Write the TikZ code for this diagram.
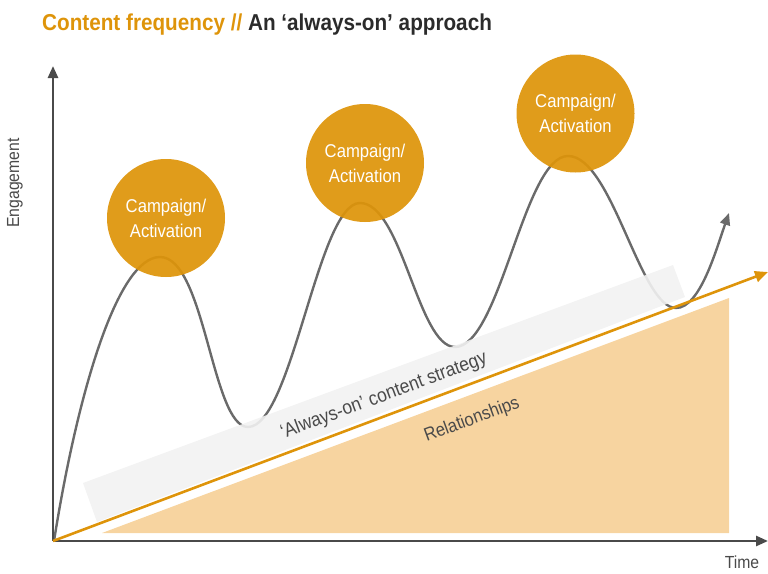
\documentclass[tikz,border=0pt]{standalone}
\usepackage{fontspec}
\setmainfont{Liberation Sans}[FakeStretch=0.9]
\usetikzlibrary{arrows.meta}
\definecolor{gold}{HTML}{DE940A}
\definecolor{axisgray}{HTML}{4A4A4A}
\definecolor{curvegray}{HTML}{6A6A6A}
\definecolor{bandgray}{HTML}{F2F2F2}
\definecolor{peach}{HTML}{F7D4A0}
\definecolor{titledark}{HTML}{2B2B2B}
\tikzset{
  axisline/.style={draw=axisgray, line width=2.6pt, -{Triangle[length=12pt,width=10pt]}},
  curveline/.style={draw=curvegray, line width=2.4pt},
  bubble/.style={circle, fill=gold, fill opacity=0.93, text opacity=1, minimum size=118pt, inner sep=0pt, text=white, align=center, font=\fontsize{18.5}{25}\selectfont},
  bandtext/.style={rotate=20.3, text=axisgray, inner sep=0pt},
}
\begin{document}
\begin{tikzpicture}[x=1pt,y=-1pt]
\useasboundingbox (0,0) rectangle (768,573);
% relationships triangle
\fill[peach] (102,533) -- (729,533) -- (729,298) -- cycle;
% engagement curve
\draw[curveline] (54,541) .. controls (78,390) and (118,257) .. (160,257)
  .. controls (205,257) and (212,427) .. (248,427)
  .. controls (292,427) and (318,203) .. (360,203)
  .. controls (402,203) and (418,347) .. (455,347)
  .. controls (500,347) and (524,156) .. (568,156)
  .. controls (612,156) and (640,308) .. (676,308);
\draw[curveline, -{Triangle[length=12pt,width=10pt]}] (676,308) .. controls (700,308) and (716,250) .. (729,213);
% always-on band
\fill[bandgray, opacity=0.9] (83,483) -- (673,265) -- (685,297) -- (97,522) -- cycle;
% axes
\coordinate (o) at (53,541);
\coordinate (ytop) at (53,66);
\coordinate (xend) at (768,541);
\draw[axisline] (o) -- (ytop);
\draw[axisline] (o) -- (xend);
% always-on line
\coordinate (aend) at (768,272);
\draw[draw=gold, line width=2.6pt, -{Triangle[length=13pt,width=11pt]}] (o) -- (aend);
% bubbles
\node[bubble] (c1) at (166,218) {Campaign/\\Activation};
\node[bubble] (c2) at (365,163) {Campaign/\\Activation};
\node[bubble] (c3) at (575.5,113.5) {Campaign/\\Activation};
% band texts
\node[bandtext, font=\fontsize{19.5}{22}\selectfont] (t1) at (384,396) {‘Always-on’ content strategy};
\node[bandtext, font=\fontsize{18.5}{22}\selectfont] (t2) at (472,420) {Relationships};
% axis labels
\node[rotate=90, text=axisgray, font=\fontsize{17.5}{20}\selectfont, inner sep=0pt] (eng) at (15,183) {Engagement};
\node[text=axisgray, font=\fontsize{17.5}{20}\selectfont, inner sep=0pt] (time) at (742,562) {Time};
% title
\node[anchor=base west, inner sep=0pt, font=\bfseries\fontsize{23}{27}\selectfont] (title) at (42,30)
  {\textcolor{gold}{Content frequency //} \textcolor{titledark}{An ‘always-on’ approach}};
\end{tikzpicture}
\end{document}
